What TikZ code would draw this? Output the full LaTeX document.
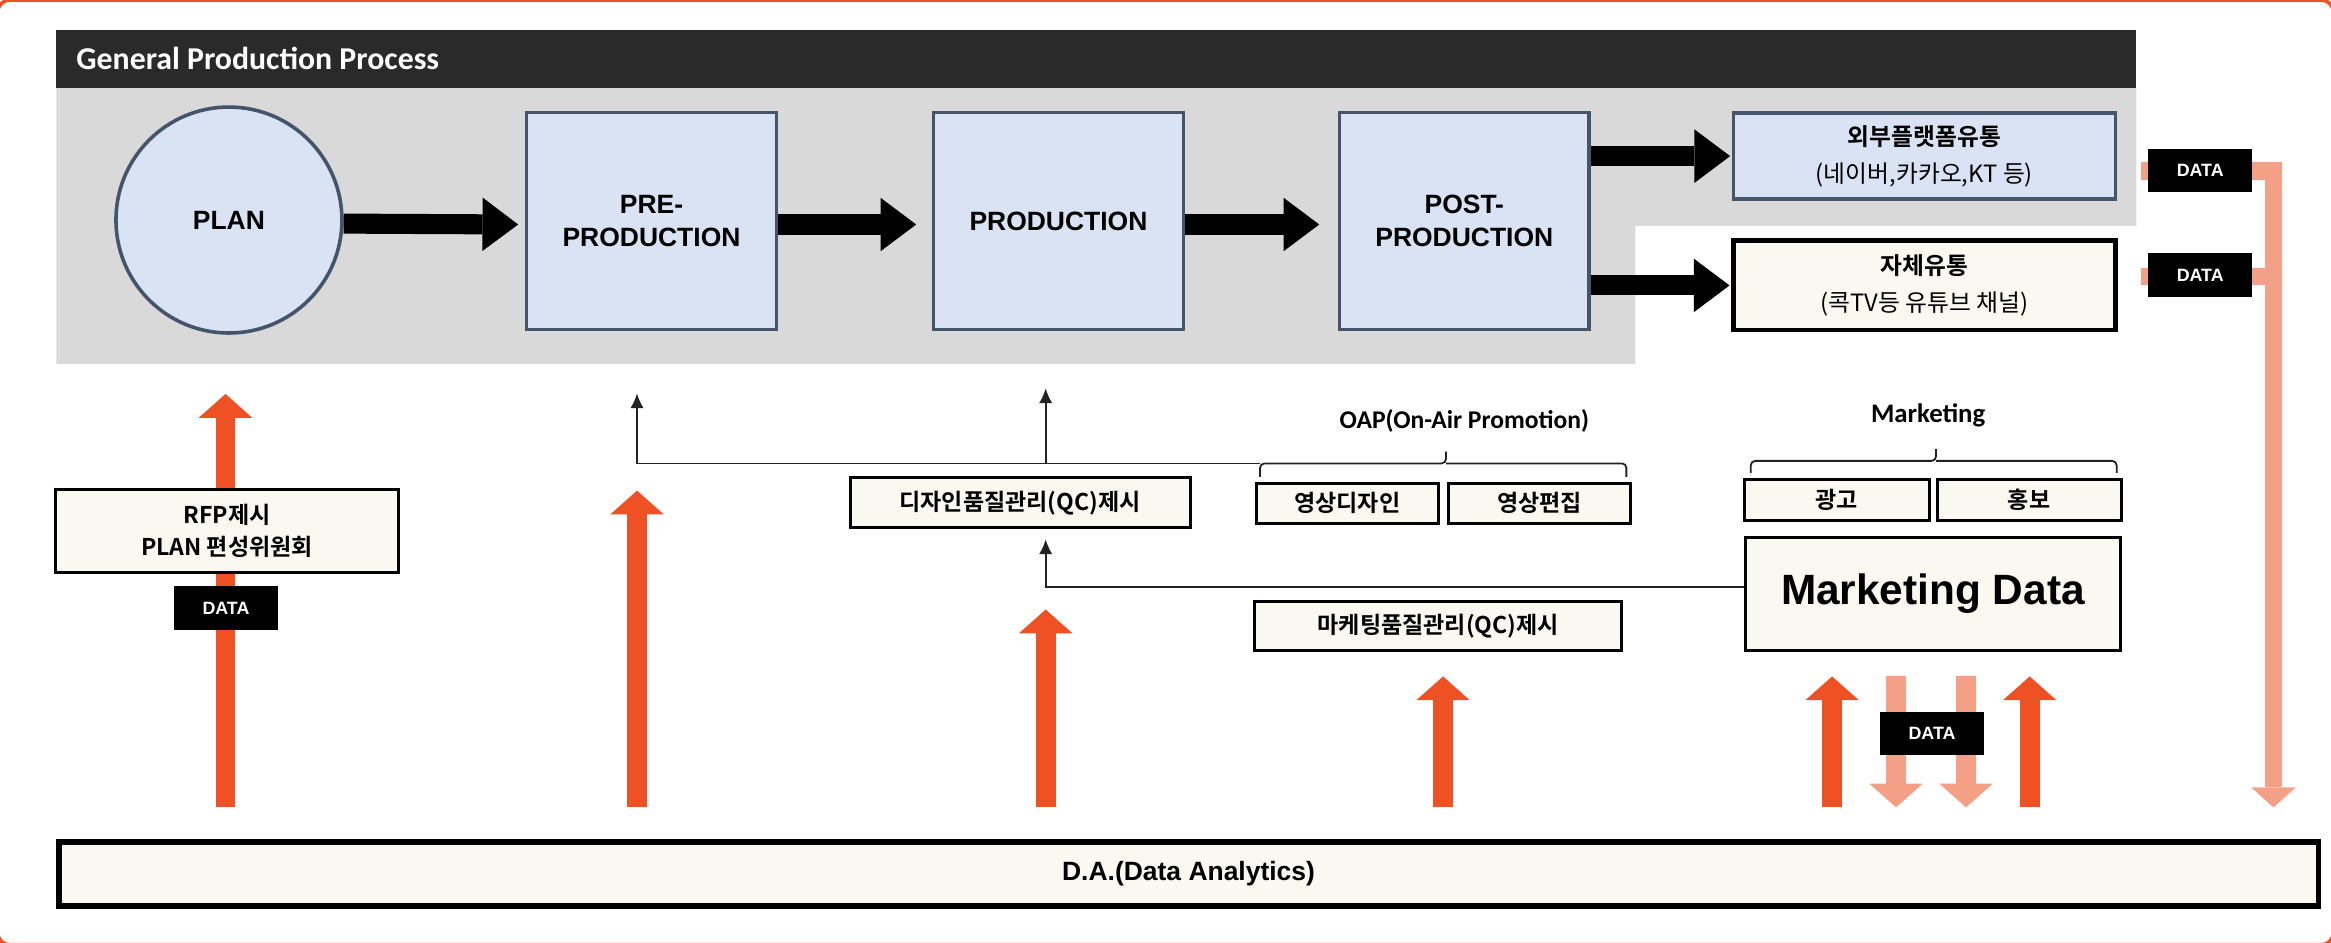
\documentclass[tikz,border=0pt]{standalone}
\usepackage{fontspec}
\setmainfont{Liberation Sans}
\newfontfamily\calfont{Carlito}
\newfontfamily\krfont{Noto Sans CJK KR}[BoldFont={Noto Sans CJK KR Bold}]
\usetikzlibrary{arrows.meta,calc}
\definecolor{hdr}{HTML}{2A2A2A}
\definecolor{greybg}{HTML}{D9D9D9}
\definecolor{bluefill}{HTML}{DAE3F3}
\definecolor{blueline}{HTML}{44546A}
\definecolor{cream}{HTML}{F9F9F2}
\definecolor{orng}{HTML}{F05124}
\definecolor{salmon}{HTML}{F4A086}
\definecolor{thinline}{HTML}{222222}
\pgfdeclarelayer{bg}
\pgfdeclarelayer{arrowlayer}
\pgfsetlayers{bg,arrowlayer,main}
\begin{document}
\begin{tikzpicture}[x=0.5pt,y=-0.5pt,
  procbox/.style={draw=blueline, fill=bluefill, line width=1.2pt, minimum width=84pt, minimum height=73pt, inner sep=0pt, align=center, font=\fontsize{8.9pt}{10.9pt}\bfseries\selectfont},
  distbox/.style={line width=1.2pt, minimum width=128.5pt, inner sep=0pt, align=center, font=\krfont\fontsize{8pt}{12.5pt}\selectfont},
  creambox/.style={draw=black, fill=cream, line width=1pt, inner sep=0pt, align=center, font=\krfont\bfseries\fontsize{7.75pt}{10.7pt}\selectfont},
  datatag/.style={fill=black, text=white, minimum width=35pt, minimum height=14.5pt, inner sep=0pt, font=\fontsize{6pt}{7pt}\bfseries\selectfont},
  blockarrow/.style={draw=black, line width=6.75pt, -{Triangle[length=12pt,width=18pt,line width=0pt]}},
  orangearrow/.style={draw=orng, line width=6.6pt, -{Triangle[length=8pt,width=18pt,line width=0pt]}},
  salmonarrow/.style={draw=salmon, line width=6.6pt, -{Triangle[length=8pt,width=18pt,line width=0pt]}},
  salmonline/.style={draw=salmon, line width=5.75pt},
  thinarrow/.style={draw=thinline, line width=0.6pt, -{Latex[length=5pt,width=4.5pt]}},
  bracestyle/.style={draw=thinline, line width=0.6pt, rounded corners=1.5pt},
  lbl/.style={font=\calfont\bfseries\fontsize{8.6pt}{10pt}\selectfont, anchor=base, inner sep=0pt}
]
\useasboundingbox (0,0) rectangle (1568,634);

% background
\begin{pgfonlayer}{bg}
  \draw[orng, line width=1.2pt, rounded corners=4pt] (-1.5,0) rectangle (1569.5,635.5);
  \fill[greybg] (38,59) -- (1437,59) -- (1437,152) -- (1100,152) -- (1100,245) -- (38,245) -- cycle;
  \fill[hdr] (38,20) rectangle (1437,59);
\end{pgfonlayer}
\node[font=\calfont\bfseries\fontsize{10.7pt}{12pt}\selectfont, text=white, anchor=base west, inner sep=0pt] (title) at (51,47) {General Production Process};

% process nodes
\node[circle, draw=blueline, fill=bluefill, line width=1.2pt, minimum size=76pt, inner sep=0pt, font=\fontsize{8.9pt}{10.9pt}\bfseries\selectfont] (plan) at (154,148) {PLAN};
\node[procbox] (pre) at (438.25,148.6) {PRE-\\PRODUCTION};
\node[procbox] (prod) at (712,148.6) {PRODUCTION};
\node[procbox] (post) at (985,148.6) {POST-\\PRODUCTION};
\node[distbox, draw=blueline, fill=bluefill, minimum height=29pt] (ext) at (1294.5,105) {\textbf{외부플랫폼유통}\\(네이버,카카오,KT 등)};
\node[distbox, draw=black, fill=cream, line width=1.6pt, minimum height=30pt] (own) at (1294.5,192) {\textbf{자체유통}\\(콕TV등 유튜브 채널)};

% block arrows
\draw[blockarrow] ([yshift=-1.2pt]plan.east) -- ([yshift=-1.2pt,xshift=-2.25pt]pre.west);
\draw[blockarrow] ([yshift=-1.2pt]pre.east) -- ([yshift=-1.2pt,xshift=-5.25pt]prod.west);
\draw[blockarrow] ([yshift=-1.2pt]prod.east) -- ([yshift=-1.2pt,xshift=-6.2pt]post.west);
\draw[blockarrow] (post.east |- ext.west) -- ([xshift=-0.5pt]ext.west);
\draw[blockarrow] (post.east |- own.west) -- ([xshift=-0.5pt]own.west);

% lower boxes
\node[draw=black, fill=cream, line width=1.9pt, minimum width=760pt, minimum height=21.5pt, inner sep=0pt, font=\fontsize{8.9pt}{10.9pt}\bfseries\selectfont] (da) at (799.5,588) {D.A.(Data Analytics)};
\node[creambox, minimum width=115.25pt, minimum height=28pt] (rfp) at (152.75,357) {RFP제시\\PLAN 편성위원회};
\node[creambox, minimum width=114.35pt, minimum height=16.85pt] (dqc) at (686.2,338.2) {디자인품질관리(QC)제시};
\node[creambox, minimum width=61.3pt, minimum height=13.5pt] (oap1) at (906.3,338.5) {영상디자인};
\node[creambox, minimum width=61.25pt, minimum height=13.5pt] (oap2) at (1035.75,338.5) {영상편집};
\node[creambox, minimum width=123.5pt, minimum height=16.7pt] (mqc) at (967.5,421) {마케팅품질관리(QC)제시};
\node[creambox, minimum width=62pt, minimum height=13.7pt] (ad) at (1235.6,336.1) {광고};
\node[creambox, minimum width=61.9pt, minimum height=13.7pt] (pr) at (1364.9,336.1) {홍보};
\node[draw=black, fill=cream, line width=1pt, minimum width=126.2pt, minimum height=38.15pt, inner sep=0pt, font=\fontsize{14.25pt}{16pt}\bfseries\selectfont] (md) at (1300.2,399.5) {Marketing Data};

% labels
\node[lbl] (oaplbl) at (985,288) {OAP(On-Air Promotion)};
\node[lbl, font=\calfont\bfseries\fontsize{9pt}{10pt}\selectfont] (mklbl) at (1297,284) {Marketing};

% braces
\coordinate (oapL) at (847.6,311.7);
\draw[bracestyle] (847.6,320.7) |- (972.7,311.7) -- (972.7,303.8);
\draw[bracestyle] (972.7,311.7) -| (1094,320.7);
\draw[bracestyle] (1177.7,318) |- (1302.3,310) -- (1302.3,302);
\draw[bracestyle] (1302.3,310) -| (1423.8,318);

% thin connectors
\coordinate (tpre) at (428.5,264.6);
\coordinate (j1) at (703.4,311.7);
\coordinate (tprod) at (703.4,261.2);
\coordinate (tdqc) at (703.4,362.8);
\draw[thinarrow] (oapL) -| (tpre);
\draw[thinarrow] (j1) -- (tprod);
\draw[thinarrow] ([yshift=2.25pt]md.west) -| (tdqc);

% orange / salmon arrows
\coordinate (o1) at (151.7,265);
\coordinate (o2) at (428.5,330);
\coordinate (o3) at (703.4,410);
\coordinate (o4) at (970.7,455);
\coordinate (o5) at (1232.4,455);
\coordinate (o6) at (1365.3,455);
\coordinate (k1) at (1275.4,455);
\coordinate (k2) at (1322.5,455);
\coordinate (s1) at (1440,115);
\coordinate (s2) at (1440,186);
\coordinate (sv) at (1529.3,115);
\begin{pgfonlayer}{arrowlayer}
  \foreach \t in {o1,o2,o3,o4,o5,o6}
    \draw[orangearrow] ([yshift=10.75pt]da.north -| \t) -- (\t);
  \foreach \t in {k1,k2}
    \draw[salmonarrow] (\t) -- ([yshift=10.75pt]da.north -| \t);
  \draw[salmonline, -{Triangle[length=6.75pt,width=15pt,line width=0pt]}] (s1) -| ([yshift=10.75pt]da.north -| sv);
  \draw[salmonline] (s2) -- (s2 -| sv);
\end{pgfonlayer}

% data tags
\node[datatag] (d1) at (1480,114.5) {DATA};
\node[datatag] (d2) at (1480,185) {DATA};
\node[datatag] (d3) at (152,409) {DATA};
\node[datatag] (d4) at (1299.6,493.5) {DATA};
\end{tikzpicture}
\end{document}
